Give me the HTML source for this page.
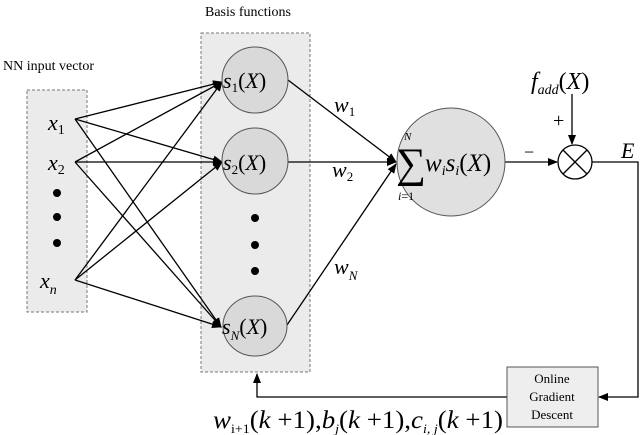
<!DOCTYPE html>
<html><head><style>body{margin:0;background:#fff}svg{display:block}text{font-family:"Liberation Serif",serif;fill:#000}</style></head>
<body>
<svg width="640" height="435" viewBox="0 0 640 435" xmlns="http://www.w3.org/2000/svg">
<defs><marker id="a" markerWidth="10" markerHeight="8" refX="9" refY="4" orient="auto" markerUnits="userSpaceOnUse"><path d="M0,0L10,4L0,8z" fill="#000"/></marker></defs>
<text x="3" y="70" font-size="14">NN input vector</text>
<text x="205" y="16" font-size="14">Basis functions</text>
<rect x="27" y="90" width="60" height="222" fill="#ebebeb" stroke="#777" stroke-dasharray="3,2"/>
<rect x="201" y="33" width="109" height="339" fill="#ebebeb" stroke="#777" stroke-dasharray="3,2"/>
<g fill="#000"><circle cx="57" cy="193" r="4"/><circle cx="57" cy="217" r="4"/><circle cx="57" cy="243" r="4"/>
<circle cx="255" cy="218" r="4"/><circle cx="255" cy="245" r="4"/><circle cx="255" cy="271" r="4"/></g>
<g stroke="#000" stroke-width="1.3" marker-end="url(#a)" fill="none">
<line x1="75" y1="119" x2="222" y2="82"/><line x1="75" y1="119" x2="222" y2="162"/><line x1="75" y1="119" x2="221" y2="327"/>
<line x1="75" y1="162" x2="222" y2="82"/><line x1="75" y1="162" x2="222" y2="162"/><line x1="75" y1="162" x2="221" y2="327"/>
<line x1="75" y1="280" x2="222" y2="82"/><line x1="75" y1="280" x2="222" y2="162"/><line x1="75" y1="280" x2="221" y2="327"/>
<line x1="288" y1="80" x2="396" y2="162"/><line x1="288" y1="162" x2="396" y2="162"/><line x1="287" y1="325" x2="396" y2="164"/>
<line x1="505" y1="162" x2="557" y2="162"/><line x1="572" y1="94" x2="572" y2="144"/>
<polyline points="592,162 638,162 638,397 599,397"/><polyline points="507,397 257,397 257,374"/>
</g>
<circle cx="255" cy="80" r="33" fill="#d9d9d9" stroke="#555"/>
<circle cx="255" cy="161" r="33" fill="#d9d9d9" stroke="#555"/>
<ellipse cx="255" cy="326" rx="32" ry="30" fill="#d9d9d9" stroke="#555"/>
<circle cx="451" cy="162" r="54" fill="#e0e0e0" stroke="#555"/>
<circle cx="575" cy="162" r="17" fill="#fff" stroke="#000" stroke-width="1.3"/>
<line x1="563" y1="150" x2="587" y2="174" stroke="#000" stroke-width="1.3"/><line x1="587" y1="150" x2="563" y2="174" stroke="#000" stroke-width="1.3"/>
<rect x="507" y="367" width="91" height="60" fill="#eee" stroke="#555"/>
<text x="552" y="383" font-size="13" text-anchor="middle">Online</text>
<text x="552" y="401" font-size="13" text-anchor="middle">Gradient</text>
<text x="552" y="419" font-size="13" text-anchor="middle">Descent</text>
<g font-style="italic" font-size="22">
<text x="48" y="130">x<tspan font-size="14" font-style="normal" dy="4">1</tspan></text>
<text x="48" y="170">x<tspan font-size="14" font-style="normal" dy="4">2</tspan></text>
<text x="40" y="288">x<tspan font-size="14" dy="6">n</tspan></text>
<text x="223" y="88">s<tspan font-size="13" font-style="normal" dy="4">1</tspan><tspan dy="-4" font-style="normal">(</tspan>X<tspan font-style="normal">)</tspan></text>
<text x="223" y="170">s<tspan font-size="13" font-style="normal" dy="4">2</tspan><tspan dy="-4" font-style="normal">(</tspan>X<tspan font-style="normal">)</tspan></text>
<text x="222" y="334">s<tspan font-size="13" dy="6">N</tspan><tspan dy="-6" font-style="normal">(</tspan>X<tspan font-style="normal">)</tspan></text>
<text x="334" y="112">w<tspan font-size="13" font-style="normal" dy="4">1</tspan></text>
<text x="332" y="177">w<tspan font-size="13" font-style="normal" dy="4">2</tspan></text>
<text x="334" y="274">w<tspan font-size="13" dy="6">N</tspan></text>
<text x="425" y="171" font-size="25">w<tspan font-size="14" dy="4">i</tspan><tspan dy="-4">s</tspan><tspan font-size="14" dy="4">i</tspan><tspan dy="-4" font-style="normal">(</tspan>X<tspan font-style="normal">)</tspan></text>
<text x="531" y="89" font-size="24">f<tspan font-size="14" dy="5">add</tspan><tspan dy="-5" font-style="normal">(</tspan>X<tspan font-style="normal">)</tspan></text>
<text x="621" y="158">E</text>
<text x="213" y="428" font-size="25" textLength="290" lengthAdjust="spacingAndGlyphs">w<tspan font-size="13" font-style="normal" dy="5">i+1</tspan><tspan dy="-5" font-style="normal">(</tspan>k<tspan font-style="normal"> +1),</tspan>b<tspan font-size="13" dy="5">j</tspan><tspan dy="-5" font-style="normal">(</tspan>k<tspan font-style="normal"> +1),</tspan>c<tspan font-size="13" dy="5">i, j</tspan><tspan dy="-5" font-style="normal">(</tspan>k<tspan font-style="normal"> +1)</tspan></text>
</g>
<text x="396" y="177" font-size="42">∑</text>
<text x="404" y="140" font-size="11" font-style="italic">N</text>
<text x="398" y="200" font-size="12"><tspan font-style="italic">i</tspan>=1</text>
<text x="524" y="158" font-size="18">−</text>
<text x="553" y="127" font-size="20">+</text>
</svg>
</body></html>
